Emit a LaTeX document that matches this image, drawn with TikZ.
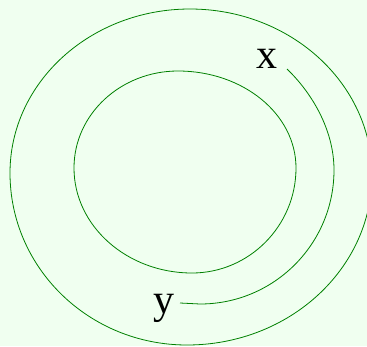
\documentclass[tikz,border=0pt]{standalone}
\usepackage{fontspec}
\setmainfont{Liberation Serif}
\begin{document}
\begin{tikzpicture}[x=1pt,y=-1pt,
  curve/.style={draw=green!50!black, line width=0.8pt},
  lbl/.style={font=\fontsize{42}{42}\selectfont, inner sep=0pt, anchor=base}]
\fill[fill={rgb,255:red,240;green,255;blue,240}] (0,0) rectangle (367,346);
\useasboundingbox (0,0) rectangle (367,346);
\clip (0,0) rectangle (367,346);
% outer loop
\draw[curve] (190,9) .. controls (91,9) and (10,82) .. (10,173)
  .. controls (10,268) and (89,345) .. (187,345)
  .. controls (289,345) and (372,269) .. (372,175)
  .. controls (372,83) and (290,9) .. cycle;
% inner loop
\draw[curve] (178,71) .. controls (121,71) and (74,114) .. (74,168)
  .. controls (74,226) and (127,273) .. (192,273)
  .. controls (249,273) and (296,226) .. (296,168)
  .. controls (296,114) and (243,71) .. cycle;
% labels
\node[lbl] (x) at (267,68) {x};
\node[lbl] (y) at (164,313) {y};
% spiral arc from x to y
\coordinate (xs) at (287,69);
\coordinate (ye) at (180,303);
\draw[curve] (xs) .. controls (312,93) and (334,130) .. (334,170)
  .. controls (334,244) and (274,304) .. (200,304) -- (ye);
\end{tikzpicture}
\end{document}
